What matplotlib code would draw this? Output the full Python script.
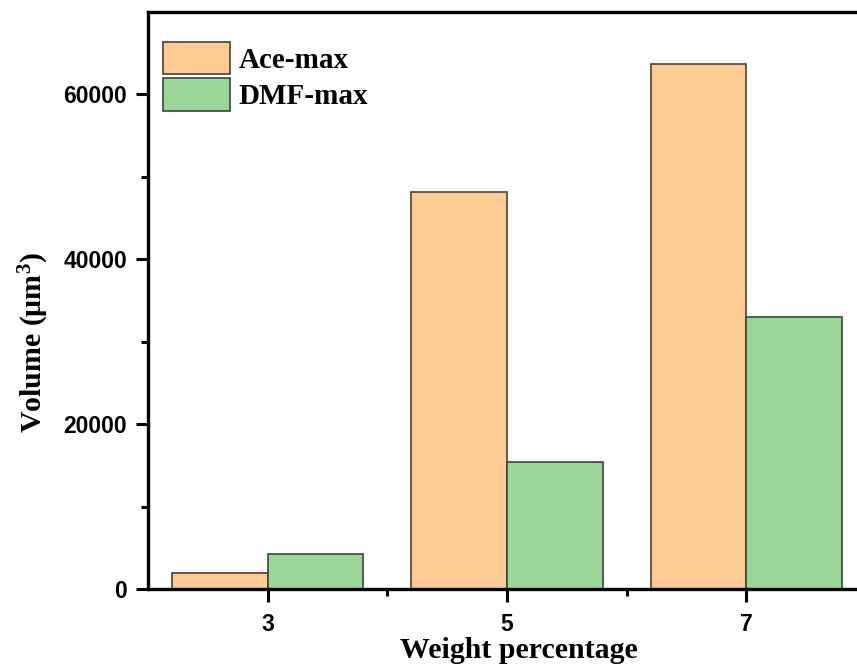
import matplotlib
matplotlib.use("Agg")
import matplotlib.pyplot as plt
import numpy as np
from matplotlib.ticker import FixedLocator

categories = ["3", "5", "7"]
ace_max = [2000, 48200, 63700]
dmf_max = [4200, 15400, 33000]

plt.rcParams['mathtext.fontset'] = 'custom'
plt.rcParams['mathtext.rm'] = 'Liberation Serif:bold'
plt.rcParams['mathtext.bf'] = 'Liberation Serif:bold'
plt.rcParams['mathtext.it'] = 'Liberation Serif:bold'
plt.rcParams['mathtext.default'] = 'bf'

fig = plt.figure(figsize=(8.57, 6.69), dpi=100)
ax = fig.add_axes([148/857, 80/669, (866-148)/857, (589-12)/669])

x = np.arange(len(categories))
w = 0.4
ax.bar(x - w/2, ace_max, width=w, color="#FDCB93", edgecolor="#4a4038", linewidth=1.2, label="Ace-max", zorder=2)
ax.bar(x + w/2, dmf_max, width=w, color="#9BD59A", edgecolor="#354a35", linewidth=1.2, label="DMF-max", zorder=2)

ax.set_xlim(-0.5, 2.5)
ax.set_ylim(0, 70000)
ax.set_xticks(x)
ax.set_xticklabels(categories)
ax.xaxis.set_minor_locator(FixedLocator([0.5, 1.5]))
ax.yaxis.set_major_locator(FixedLocator([0, 20000, 40000, 60000]))
ax.yaxis.set_minor_locator(FixedLocator([10000, 30000, 50000]))

for s in ax.spines.values():
    s.set_linewidth(2.4)
ax.tick_params(axis='both', which='major', direction='out', length=9, width=2.2)
ax.tick_params(axis='both', which='minor', direction='out', length=5, width=2.2)
ax.tick_params(axis='y', which='major', pad=6)
ax.tick_params(axis='x', which='major', pad=8)
for lab in ax.get_xticklabels() + ax.get_yticklabels():
    lab.set_fontfamily('Liberation Sans')
    lab.set_fontweight('bold')
    lab.set_fontsize(16.5)

ax.set_xlabel("Weight percentage", fontfamily='Liberation Serif', fontweight='bold', fontsize=21.5)
ax.xaxis.set_label_coords((519-148)/(866-148), (589-637)/577)
ax.set_ylabel("Volume (μm$^{3}$)", fontfamily='Liberation Serif', fontweight='bold', fontsize=21.5)
ax.yaxis.set_label_coords((51-148)/(866-148), (589-343)/577)

leg = ax.legend(loc='upper left', bbox_to_anchor=((160-148)/718, (589-39)/577), frameon=False,
                prop={'family': 'Liberation Serif', 'weight': 'bold', 'size': 21},
                handlelength=2.3, handleheight=1.32, labelspacing=0.15, handletextpad=0.3,
                borderaxespad=0.0, borderpad=0.1)

fig.savefig("out.png", dpi=100)
